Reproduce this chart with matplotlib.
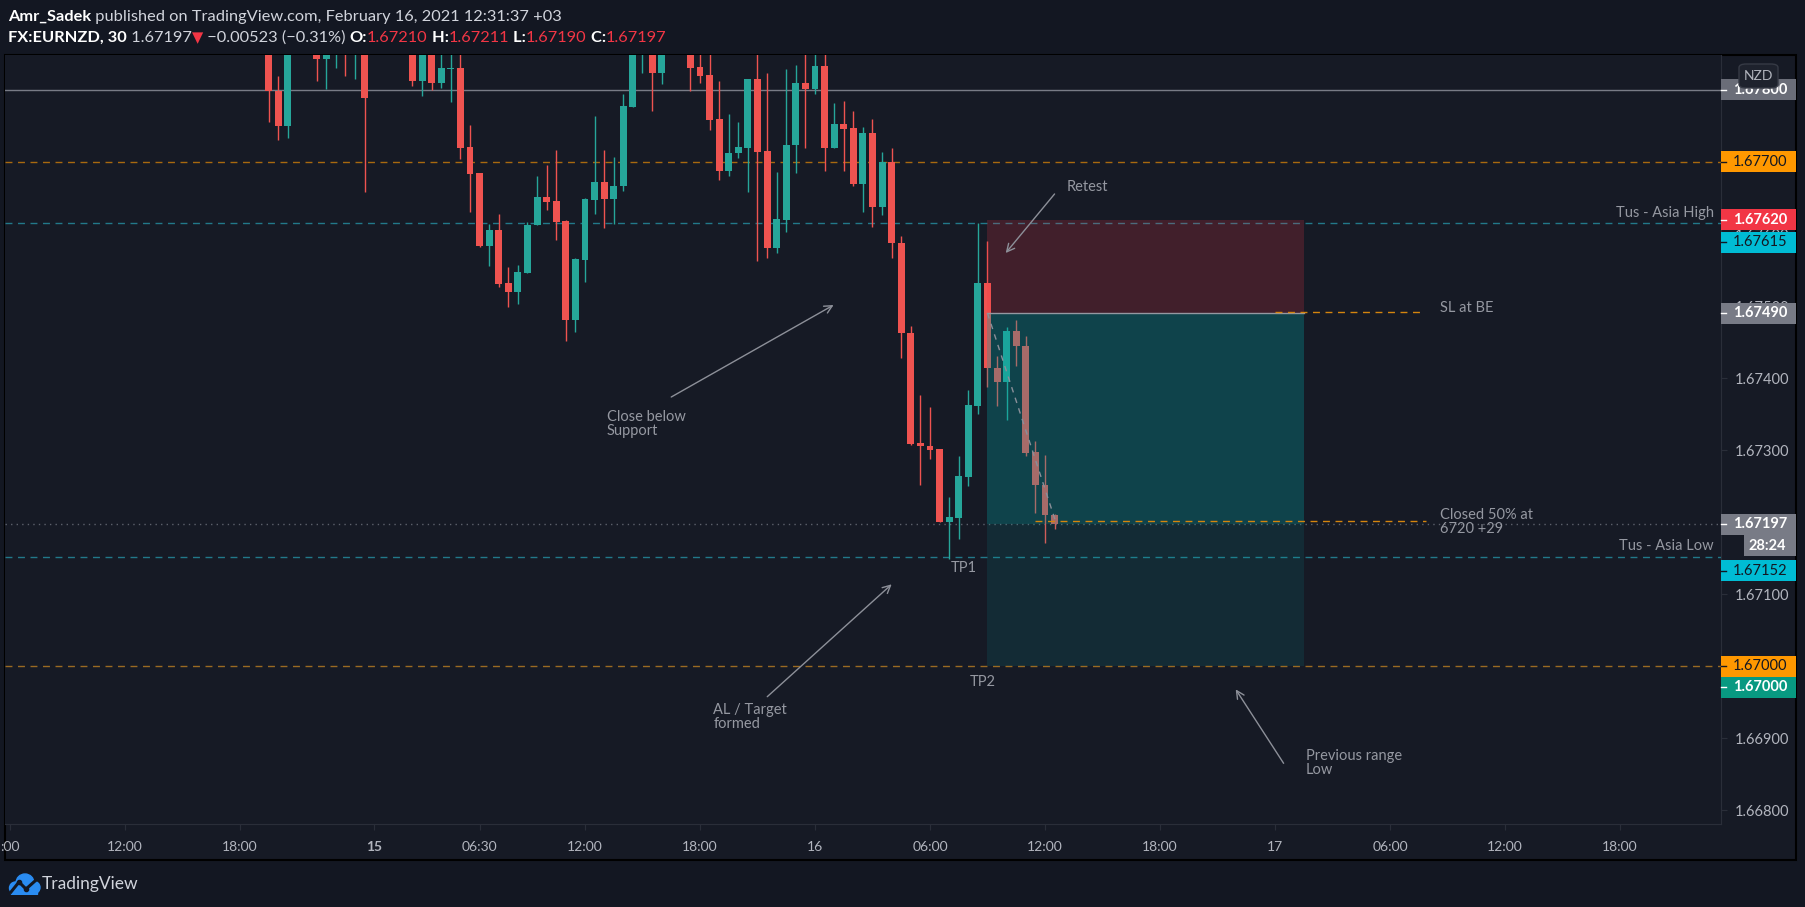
import matplotlib
matplotlib.use('Agg')
import matplotlib.pyplot as plt
import matplotlib.transforms as mtransforms
from matplotlib.patches import Rectangle, FancyBboxPatch, Circle
import numpy as np

plt.rcParams['font.family'] = ['Lato', 'DejaVu Sans']

# ---- data: 30 min EURNZD candles, bar index 0 = Feb 16 00:00 (+03) ----
bar = [-57, -56, -55, -52, -51, -50, -49, -48, -47,
       -42, -41, -40, -39, -38, -37, -36, -35, -34, -33, -32, -31, -30,
       -29, -28, -27, -26, -25, -24, -23, -22, -21, -20, -19, -18, -17, -16,
       -13, -12, -11, -10, -9, -8, -7, -6, -5, -4, -3, -2, -1,
       0, 1, 2, 3, 4, 5, 6, 7, 8, 9, 10, 11, 12, 13, 14, 15, 16, 17, 18,
       19, 20, 21, 22, 23, 24, 25]
opens = [1.67870, 1.67799, 1.67750, 1.67860, 1.67843, 1.67855, 1.67875, 1.67855, 1.67870,
         1.67860, 1.67812, 1.67860, 1.67810, 1.67829, 1.67830, 1.67721, 1.67685, 1.67584,
         1.67606, 1.67532, 1.67520, 1.67546, 1.67612, 1.67651, 1.67646, 1.67618, 1.67481,
         1.67564, 1.67647, 1.67672, 1.67649, 1.67666, 1.67777, 1.67855, 1.67860, 1.67823,
         1.67860, 1.67832, 1.67821, 1.67760, 1.67688, 1.67712, 1.67720, 1.67815, 1.67715,
         1.67581, 1.67620, 1.67723, 1.67810, 1.67801, 1.67833, 1.67720, 1.67753, 1.67747,
         1.67669, 1.67740, 1.67637, 1.67700, 1.67588, 1.67463, 1.67310, 1.67306, 1.67301,
         1.67200, 1.67206, 1.67263, 1.67361, 1.67532, 1.67414, 1.67394, 1.67465, 1.67444,
         1.67297, 1.67252, 1.67210]
highs = [1.67885, 1.67819, 1.67880, 1.67875, 1.67870, 1.67880, 1.67890, 1.67880, 1.67880,
         1.67870, 1.67875, 1.67870, 1.67860, 1.67860, 1.67860, 1.67751, 1.67685, 1.67614,
         1.67628, 1.67554, 1.67557, 1.67616, 1.67681, 1.67696, 1.67717, 1.67619, 1.67567,
         1.67650, 1.67764, 1.67717, 1.67707, 1.67795, 1.67875, 1.67885, 1.67870, 1.67870,
         1.67870, 1.67855, 1.67850, 1.67812, 1.67767, 1.67756, 1.67815, 1.67860, 1.67823,
         1.67686, 1.67829, 1.67835, 1.67860, 1.67855, 1.67860, 1.67782, 1.67785, 1.67771,
         1.67749, 1.67760, 1.67714, 1.67720, 1.67597, 1.67472, 1.67376, 1.67360, 1.67301,
         1.67235, 1.67292, 1.67383, 1.67615, 1.67590, 1.67431, 1.67471, 1.67481, 1.67458,
         1.67313, 1.67293, 1.67211]
lows = [1.67755, 1.67731, 1.67734, 1.67812, 1.67801, 1.67831, 1.67819, 1.67815, 1.67659,
        1.67805, 1.67791, 1.67800, 1.67803, 1.67784, 1.67704, 1.67631, 1.67582, 1.67555,
        1.67527, 1.67499, 1.67503, 1.67546, 1.67612, 1.67633, 1.67591, 1.67452, 1.67464,
        1.67534, 1.67628, 1.67609, 1.67614, 1.67660, 1.67777, 1.67823, 1.67771, 1.67809,
        1.67798, 1.67810, 1.67744, 1.67675, 1.67681, 1.67705, 1.67659, 1.67563, 1.67567,
        1.67574, 1.67603, 1.67685, 1.67720, 1.67795, 1.67688, 1.67720, 1.67687, 1.67666,
        1.67630, 1.67610, 1.67627, 1.67567, 1.67428, 1.67307, 1.67251, 1.67288, 1.67200,
        1.67148, 1.67176, 1.67250, 1.67350, 1.67387, 1.67361, 1.67341, 1.67416, 1.67291,
        1.67212, 1.67171, 1.67190]
closes = [1.67798, 1.67750, 1.67865, 1.67843, 1.67860, 1.67870, 1.67855, 1.67870, 1.67789,
          1.67812, 1.67860, 1.67810, 1.67830, 1.67830, 1.67720, 1.67684, 1.67583, 1.67606,
          1.67531, 1.67520, 1.67547, 1.67613, 1.67651, 1.67645, 1.67617, 1.67481, 1.67565,
          1.67649, 1.67672, 1.67649, 1.67667, 1.67778, 1.67860, 1.67870, 1.67823, 1.67860,
          1.67831, 1.67820, 1.67758, 1.67688, 1.67713, 1.67721, 1.67815, 1.67714, 1.67581,
          1.67621, 1.67724, 1.67810, 1.67801, 1.67833, 1.67720, 1.67753, 1.67746, 1.67669,
          1.67740, 1.67637, 1.67700, 1.67587, 1.67462, 1.67308, 1.67305, 1.67300, 1.67200,
          1.67207, 1.67264, 1.67363, 1.67532, 1.67414, 1.67394, 1.67465, 1.67444, 1.67296,
          1.67252, 1.67210, 1.67197]

time_ticks = [-84, -72, -60, -46, -35, -24, -12, 0, 12, 24, 36, 48, 60, 72, 84]
time_labels = [':00', '12:00', '18:00', '15', '06:30', '12:00', '18:00', '16',
               '06:00', '12:00', '18:00', '17', '06:00', '12:00', '18:00']
price_ticks = [1.668, 1.669, 1.670, 1.671, 1.672, 1.673, 1.674, 1.675, 1.676, 1.677, 1.678]

# levels and position tool
level_1678 = 1.67800
level_1677 = 1.67700
asia_high = 1.67615
asia_low = 1.67152
level_1670 = 1.67000
entry, stop, target = 1.67490, 1.67620, 1.67000
pos_start, pos_end = 18, 51
closed_half = 1.67202
last_close = closes[-1]

# ---- figure ----
W, H = 1805, 907
fig = plt.figure(figsize=(W / 100, H / 100), dpi=100)
fig.patch.set_facecolor('#131722')


def fx(px):
    return px / W


def fy(py):
    return 1 - py / H


fig.add_artist(Rectangle((fx(5), fy(860)), fx(1796) - fx(5), fy(55) - fy(860),
                         transform=fig.transFigure, facecolor='#161a25',
                         edgecolor='#000000', lw=1.5, zorder=0))

ax = fig.add_axes([fx(5), fy(824), fx(1721) - fx(5), fy(55) - fy(824)])
ax.set_facecolor('#161a25')
ymin, ymax = 1.667806, 1.678486
ax.set_xlim(-84.52, 94.54)
ax.set_ylim(ymin, ymax)
px_per_unit = (824 - 55) / (ymax - ymin)
for s in ['top', 'left']:
    ax.spines[s].set_visible(False)
for s in ['bottom', 'right']:
    ax.spines[s].set_color('#2a2e39')

# candles
up, down = '#26a69a', '#ef5350'
o = np.array(opens)
c = np.array(closes)
cols = [up if cc >= oo else down for oo, cc in zip(o, c)]
ax.vlines(bar, lows, highs, colors=cols, lw=1, zorder=2)
ax.bar(bar, np.maximum(np.abs(c - o), 0.000015), bottom=np.minimum(o, c), width=0.72,
       color=cols, zorder=2)

# horizontal levels
ax.axhline(level_1678, color='#787b86', lw=1, zorder=1)
ax.axhline(level_1677, color='#a8690f', lw=1, ls=(0, (5, 4)), zorder=1)
ax.axhline(asia_high, color='#22798a', lw=1, ls=(0, (5, 4)), zorder=1)
ax.axhline(asia_low, color='#22798a', lw=1, ls=(0, (5, 4)), zorder=1)
ax.axhline(level_1670, color='#9a6a22', lw=1, ls=(0, (5, 4)), zorder=1)
ax.axhline(last_close, color='#5d616c', lw=1, ls=(0, (1, 3)), zorder=1)

# position tool
ax.add_patch(Rectangle((pos_start, entry), pos_end - pos_start, stop - entry,
                       facecolor='#f23645', alpha=0.2, lw=0, zorder=3))
ax.add_patch(Rectangle((pos_start, last_close), pos_end - pos_start, entry - last_close,
                       facecolor='#00a3a3', alpha=0.3, lw=0, zorder=3))
ax.add_patch(Rectangle((pos_start, target), pos_end - pos_start, last_close - target,
                       facecolor='#00a3a3', alpha=0.13, lw=0, zorder=3))
ax.plot([pos_start, pos_end], [entry, entry], color='#9598a1', lw=1, zorder=3)
ax.plot([pos_start, bar[-1] + 0.2], [entry, last_close], color='#8a8f99', lw=1,
        ls=(0, (4, 4)), zorder=4)

# trade notes
ax.plot([48, 63.4], [entry + 0.00001, entry + 0.00001], color='#d4850e', lw=1,
        ls=(0, (5, 4)), zorder=4)
ax.plot([23, 63.8], [closed_half, closed_half], color='#d4850e', lw=1,
        ls=(0, (5, 4)), zorder=4)

tcol = '#9598a1'
fs = 10.5
ax.text(65.2, 1.674976, 'SL at BE', color=tcol, fontsize=fs, va='center', zorder=5)
ax.text(65.2, 1.672, 'Closed 50% at\n6720 +29', color=tcol, fontsize=fs, va='center',
        linespacing=1.0, zorder=5)
ax.text(93.8, 1.676296, 'Tus - Asia High', color=tcol, fontsize=fs, va='center',
        ha='right', zorder=5)
ax.text(93.8, 1.671671, 'Tus - Asia Low', color=tcol, fontsize=fs, va='center',
        ha='right', zorder=5)
ax.text(26.3, 1.676653, 'Retest', color=tcol, fontsize=fs, va='center', zorder=5)
ax.text(-21.7, 1.673361, 'Close below\nSupport', color=tcol, fontsize=fs, va='center',
        linespacing=1.0, zorder=5)
ax.text(15.5, 1.671365, 'TP1', color=tcol, fontsize=fs, va='center', ha='center', zorder=5)
ax.text(17.5, 1.669782, 'TP2', color=tcol, fontsize=fs, va='center', ha='center', zorder=5)
ax.text(-10.6, 1.669292, 'AL / Target\nformed', color=tcol, fontsize=fs, va='center',
        linespacing=1.0, zorder=5)
ax.text(51.2, 1.668653, 'Previous range\nLow', color=tcol, fontsize=fs, va='center',
        linespacing=1.0, zorder=5)

arrows = [((25.0, 1.676556), (19.9, 1.675736)),
          ((-15.0, 1.673736), (1.94, 1.675014)),
          ((-4.98, 1.669574), (8.0, 1.671135)),
          ((48.9, 1.668649), (43.9, 1.669676))]
for start, tip in arrows:
    ax.annotate('', xy=tip, xytext=start, zorder=5,
                arrowprops=dict(arrowstyle='->', color='#8d9099', lw=1,
                                shrinkA=0, shrinkB=0, mutation_scale=14))

# axes ticks
ax.set_xticks(time_ticks)
ax.set_xticklabels(time_labels)
for lab in ax.get_xticklabels():
    if lab.get_text() == '15':
        lab.set_fontweight('bold')
ax.yaxis.tick_right()
ax.set_yticks(price_ticks)
ax.set_yticklabels([f'{v:.5f}' for v in price_ticks])
ax.tick_params(axis='x', colors='#2a2e39', labelcolor='#b2b5be', length=4, pad=8,
               labelsize=10)
ax.tick_params(axis='y', colors='#2a2e39', labelcolor='#b2b5be', length=4, pad=6,
               labelsize=10.5)

# price labels on the scale
trans = mtransforms.blended_transform_factory(ax.transAxes, ax.transData)
x1 = (1796 - 5) / (1721 - 5)
xt = (1733 - 5) / (1721 - 5)
half = 10.5 / px_per_unit


def price_label(value, fc, tc, bold, shift_px=0):
    yc = value - shift_px / px_per_unit
    ax.add_patch(Rectangle((1.0, yc - half), x1 - 1.0, 2 * half, transform=trans,
                           facecolor=fc, lw=0, clip_on=False, zorder=6))
    ax.plot([1.0, 1.003], [yc, yc], transform=trans, color=tc, lw=1, clip_on=False,
            zorder=7)
    ax.text(xt, yc, f'{value:.5f}', transform=trans, color=tc, fontsize=10.5,
            fontweight='bold' if bold else 'normal', va='center', ha='left',
            clip_on=False, zorder=7)


price_label(level_1678, '#6a6d78', '#ffffff', True)
price_label(level_1677, '#ff9800', '#131722', False)
price_label(stop, '#f23645', '#ffffff', True)
price_label(asia_high, '#00bcd4', '#131722', False, shift_px=19)
price_label(entry, '#787b86', '#ffffff', True)
price_label(last_close, '#787b86', '#ffffff', True)
price_label(asia_low, '#00bcd4', '#131722', False, shift_px=14)
price_label(level_1670, '#ff9800', '#131722', False)
price_label(target, '#089981', '#ffffff', True, shift_px=21.3)

# countdown box
fig.add_artist(Rectangle((fx(1744), fy(556)), fx(1796) - fx(1744), fy(535) - fy(556),
                         transform=fig.transFigure, facecolor='#787b86', lw=0, zorder=8))
fig.text(fx(1767.5), fy(545.5), '28:24', color='#ffffff', fontsize=10.5, fontweight='bold',
         ha='center', va='center', zorder=9)

# currency badge
fig.add_artist(FancyBboxPatch((fx(1739), fy(88)), fx(1778) - fx(1739), fy(64) - fy(88),
                              boxstyle='round,pad=0,rounding_size=0.004',
                              transform=fig.transFigure, facecolor='#1e222d',
                              edgecolor='#363a45', lw=1, zorder=8))
fig.text(fx(1758.5), fy(76), 'NZD', color='#b2b5be', fontsize=10, ha='center',
         va='center', zorder=9)

# header
red = '#f23645'
light = '#d1d4dc'
line1 = [('Amr_Sadek', '#ffffff', 'bold'),
         (' published on TradingView.com, February 16, 2021 12:31:37 +03', light, 'normal')]
line2 = [('FX:EURNZD, 30', '#ffffff', 'bold'),
         (f' {last_close:.5f}', light, 'normal'),
         ('▼', red, 'normal'),
         (' −0.00523 (−0.31%) ', light, 'normal'),
         ('O:', '#ffffff', 'bold'), (f'{opens[-1]:.5f}', red, 'normal'),
         (' H:', '#ffffff', 'bold'), (f'{highs[-1]:.5f}', red, 'normal'),
         (' L:', '#ffffff', 'bold'), (f'{lows[-1]:.5f}', red, 'normal'),
         (' C:', '#ffffff', 'bold'), (f'{closes[-1]:.5f}', red, 'normal')]

renderer = fig.canvas.get_renderer()


def place(parts, px, py):
    # lay the pieces side by side, measuring each one
    x = px
    for s, col, w in parts:
        fam = ['DejaVu Sans'] if s == '▼' else ['Lato', 'DejaVu Sans']
        size = 10.5 if s == '▼' else 11.75
        t = fig.text(fx(x), fy(py), s, color=col, fontweight=w, fontsize=size,
                     family=fam, va='baseline', ha='left')
        x += t.get_window_extent(renderer=renderer).width


place(line1, 8, 21)
place(line2, 8, 42)

# footer logo
lax = fig.add_axes([fx(7), fy(895), fx(41) - fx(7), fy(872) - fy(895)])
lax.set_xlim(0, 34)
lax.set_ylim(0, 23)
lax.axis('off')
blue = '#2a8cf2'
lax.add_patch(Rectangle((4, 1), 26, 7, color=blue))
lax.add_patch(Circle((8.5, 7), 6, color=blue))
lax.add_patch(Circle((18, 12), 9, color=blue))
lax.add_patch(Circle((27, 7.5), 6, color=blue))
lax.plot([4, 12, 19, 28], [3, 13, 6, 14], color='#131722', lw=2.2)
lax.plot([12, 19], [13, 6], 'o', color='#131722', ms=3)
fig.text(fx(42), fy(884), 'TradingView', color=light, fontsize=12.5, va='center', ha='left')

fig.savefig('out.png', dpi=100, facecolor=fig.get_facecolor())
